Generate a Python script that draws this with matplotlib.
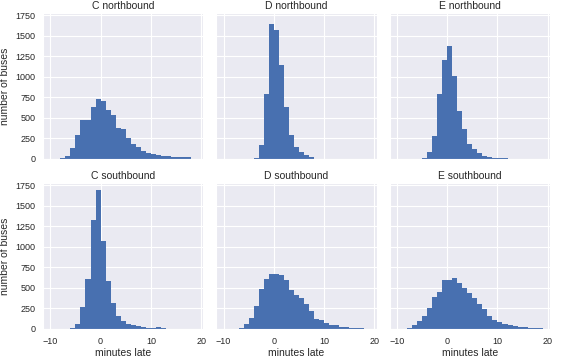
import numpy as np
import matplotlib
matplotlib.use("Agg")
import matplotlib.pyplot as plt
import seaborn as sns

# bin edges: -10 .. 19, width 1 minute
bin_edges = np.arange(-10, 20)

routes = ["C", "D", "E"]
directions = ["northbound", "southbound"]

# counts per bin (bins -10..18)
c_north = [0, 0, 15, 30, 130, 290, 480, 480, 630, 735, 710, 595, 530, 375, 365,
           250, 185, 140, 100, 75, 60, 48, 40, 33, 28, 24, 22, 18, 0]
d_north = [0, 0, 0, 0, 0, 0, 15, 175, 790, 1650, 1575, 1140, 630, 290, 145,
           85, 50, 25, 3, 5, 0, 0, 0, 0, 0, 0, 0, 0, 0]
e_north = [0, 0, 0, 0, 0, 10, 85, 280, 790, 1210, 1380, 1015, 590, 360, 185,
           125, 75, 40, 20, 10, 8, 6, 5, 0, 0, 0, 0, 0, 0]
c_south = [0, 0, 0, 3, 8, 55, 265, 605, 1330, 1695, 1075, 580, 315, 160, 95,
           65, 50, 35, 22, 15, 10, 20, 8, 6, 5, 5, 4, 4, 3]
d_south = [0, 0, 3, 15, 60, 135, 280, 490, 605, 665, 665, 660, 600, 480, 415,
           375, 305, 220, 125, 110, 75, 45, 50, 30, 20, 16, 12, 10, 6]
e_south = [0, 3, 10, 45, 100, 160, 250, 395, 455, 595, 595, 625, 560, 500, 435,
           375, 300, 240, 160, 115, 85, 65, 50, 35, 28, 20, 16, 12, 8]

counts = {
    ("C", "northbound"): c_north,
    ("D", "northbound"): d_north,
    ("E", "northbound"): e_north,
    ("C", "southbound"): c_south,
    ("D", "southbound"): d_south,
    ("E", "southbound"): e_south,
}

sns.set_style("darkgrid")
plt.rcParams['font.family'] = ['Liberation Sans', 'DejaVu Sans']

fig, axes = plt.subplots(2, 3, figsize=(5.63, 3.63), dpi=100, sharex=True, sharey=True)
fig.subplots_adjust(left=43 / 563, right=550 / 563, top=1 - 13 / 363, bottom=1 - 329 / 363,
                    wspace=0.08, hspace=0.165)

for i, direction in enumerate(directions):
    for j, route in enumerate(routes):
        ax = axes[i, j]
        ax.hist(bin_edges[:-1], bins=bin_edges, weights=counts[(route, direction)],
                color='#4870B0', edgecolor='none', linewidth=0)
        ax.set_title(f"{route} {direction}", fontsize=7.5, color='#262626', pad=3)
        ax.tick_params(labelsize=6.5, colors='#262626', pad=2)
        if j == 0:
            ax.set_ylabel("number of buses", fontsize=7.5, color='#262626', labelpad=4)
        if i == 1:
            ax.set_xlabel("minutes late", fontsize=7.5, color='#262626', labelpad=2)

axes[0, 0].set_xticks([-10, 0, 10, 20])
axes[0, 0].set_yticks([0, 250, 500, 750, 1000, 1250, 1500, 1750])

fig.savefig("out.png", dpi=100)
